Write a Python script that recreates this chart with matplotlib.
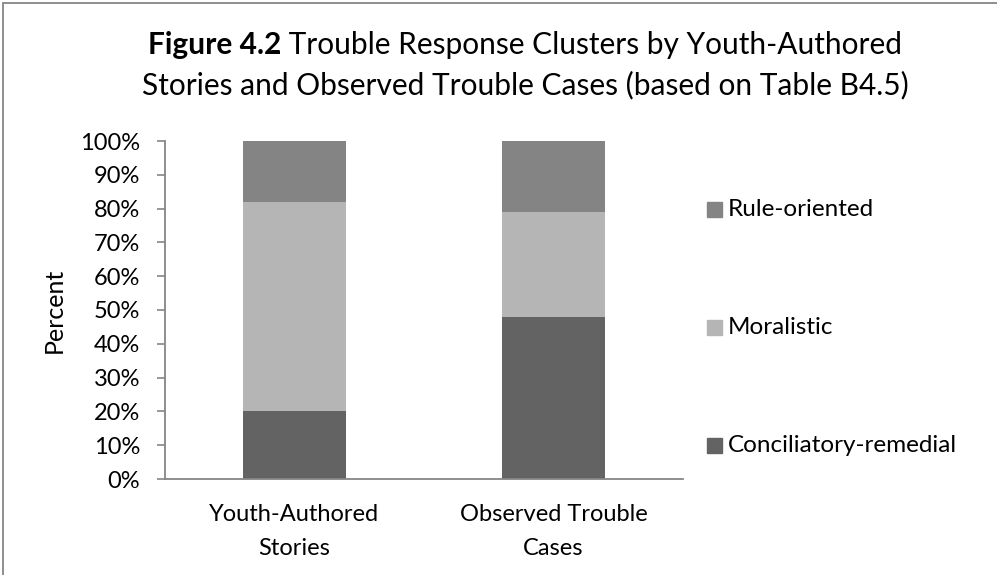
import matplotlib
matplotlib.use("Agg")
import matplotlib.pyplot as plt
from matplotlib.patches import Rectangle
from matplotlib.ticker import PercentFormatter
import numpy as np

# data (percent of cases per cluster)
categories = ["Youth-Authored\nStories", "Observed Trouble\nCases"]
conciliatory = [20, 48]
moralistic = [62, 31]
rule_oriented = [18, 21]

series_names = ["Conciliatory-remedial", "Moralistic", "Rule-oriented"]
colors = ["#636363", "#b5b5b5", "#848484"]

plt.rcParams['font.family'] = ['Lato', 'DejaVu Sans']

W, H = 997, 575
fig = plt.figure(figsize=(W / 100, H / 100), dpi=100)

# axes box in pixels: left 165, right 683, top 141, bottom 479
ax = fig.add_axes([165 / W, (H - 479) / H, (683 - 165) / W, (479 - 141) / H])

x = np.arange(len(categories))
bottom = np.zeros(len(categories))
for vals, name, c in zip([conciliatory, moralistic, rule_oriented], series_names, colors):
    ax.bar(x, vals, 0.4, bottom=bottom, color=c, label=name)
    bottom += np.array(vals)

ax.set_xlim(-0.5, len(categories) - 0.5)
ax.set_ylim(0, 100)
ax.set_yticks(np.arange(0, 101, 10))
ax.yaxis.set_major_formatter(PercentFormatter(decimals=0))
ax.set_xticks(x)
ax.set_xticklabels(categories, fontsize=17, linespacing=1.75)
ax.tick_params(axis='x', length=0, pad=18)
ax.tick_params(axis='y', length=6, width=1.2, color='#868686', labelsize=17, pad=12)
for s in ['top', 'right']:
    ax.spines[s].set_visible(False)
for s in ['left', 'bottom']:
    ax.spines[s].set_color('#868686')
    ax.spines[s].set_linewidth(1.3)

ax.set_ylabel("Percent", fontsize=18, labelpad=10)

# title: bold "Figure 4.2" followed by plain text, centred as one line
title_size = 21.5
t1a = "Figure 4.2"
t1b = " Trouble Response Clusters by Youth-Authored"
t2 = "Stories and Observed Trouble Cases (based on Table B4.5)"

renderer = fig.canvas.get_renderer()
ta = fig.text(0, 0, t1a, fontsize=title_size, fontweight='bold', va='center')
tb = fig.text(0, 0, t1b, fontsize=title_size, va='center')
wa = ta.get_window_extent(renderer).width
wb = tb.get_window_extent(renderer).width
x0 = 525 - (wa + wb) / 2
ta.set_position((x0 / W, 1 - 45 / H))
tb.set_position(((x0 + wa) / W, 1 - 45 / H))
fig.text(525 / W, 1 - 85 / H, t2, fontsize=title_size, ha='center', va='center')

# legend, top entry first
leg_y = [209, 327, 445]
for (name, c), yy in zip(reversed(list(zip(series_names, colors))), leg_y):
    fig.add_artist(Rectangle((707 / W, 1 - (yy + 7.5) / H), 15 / W, 15 / H,
                             transform=fig.transFigure, color=c))
    fig.text(728 / W, 1 - yy / H, name, fontsize=17.5, va='center')

# chart area border (clipped at right and bottom in the source)
fig.add_artist(Rectangle((3 / W, -0.1), 1.2, 1.1 - 3 / H, transform=fig.transFigure,
                         fill=False, ec='#868686', lw=1.3))

fig.savefig("out.png", dpi=100)
